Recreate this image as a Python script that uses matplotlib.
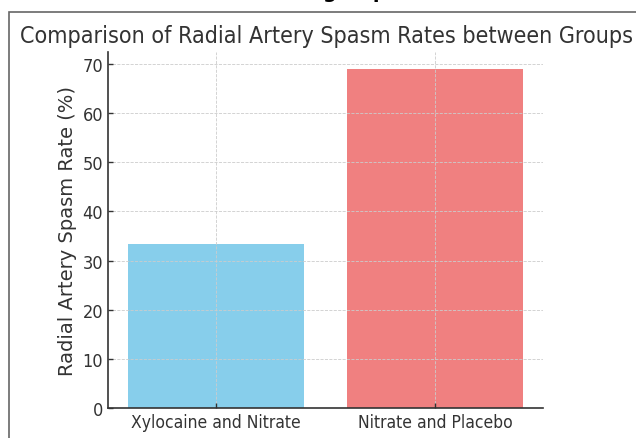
import matplotlib
matplotlib.use("Agg")
import matplotlib.pyplot as plt
from matplotlib import font_manager
from matplotlib.font_manager import FontProperties
from matplotlib.patches import Rectangle

groups = ["Xylocaine and Nitrate", "Nitrate and Placebo"]
spasm_rates = [33.3, 69.0]
bar_colors = ["skyblue", "lightcoral"]

# condensed DejaVu, if it is there
cond_path = None
for f in font_manager.fontManager.ttflist:
    if f.fname.endswith("DejaVuSansCondensed.ttf"):
        cond_path = f.fname
        break


def cond(size):
    if cond_path:
        return FontProperties(fname=cond_path, size=size)
    return FontProperties(family="DejaVu Sans", size=size)


fig = plt.figure(figsize=(6.36, 4.39), dpi=100)
ax = fig.add_axes([0.1698, 0.0683, 0.684, 0.811])

ax.bar(groups, spasm_rates, color=bar_colors, width=0.8)
ax.set_ylabel("Radial Artery Spasm Rate (%)", fontsize=14, color="#333333")
ax.tick_params(direction="in", colors="#333333", width=1)
for lbl in ax.get_xticklabels():
    lbl.set_fontproperties(cond(12.5))
for lbl in ax.get_yticklabels():
    lbl.set_fontproperties(cond(13))
ax.grid(True, linestyle="--", linewidth=0.6, color="#cccccc")
ax.spines["top"].set_visible(False)
ax.spines["right"].set_visible(False)
for s in ["left", "bottom"]:
    ax.spines[s].set_color("#333333")
    ax.spines[s].set_linewidth(1.2)

fig.text(20 / 636, 1 - 43.5 / 439, "Comparison of Radial Artery Spasm Rates between Groups",
         ha="left", va="baseline", fontproperties=cond(16.7), color="#333333")
fig.text(0.567, 1 + 2 / 439, "groups", ha="center", va="baseline",
         fontsize=14, fontweight="bold")

# border of the surrounding frame
fig.add_artist(Rectangle((9 / 636, -0.1), 1.2, 1.1 - 13 / 439,
                         transform=fig.transFigure, fill=False,
                         edgecolor="#666666", linewidth=1.2))

fig.savefig("out.png", dpi=100)
